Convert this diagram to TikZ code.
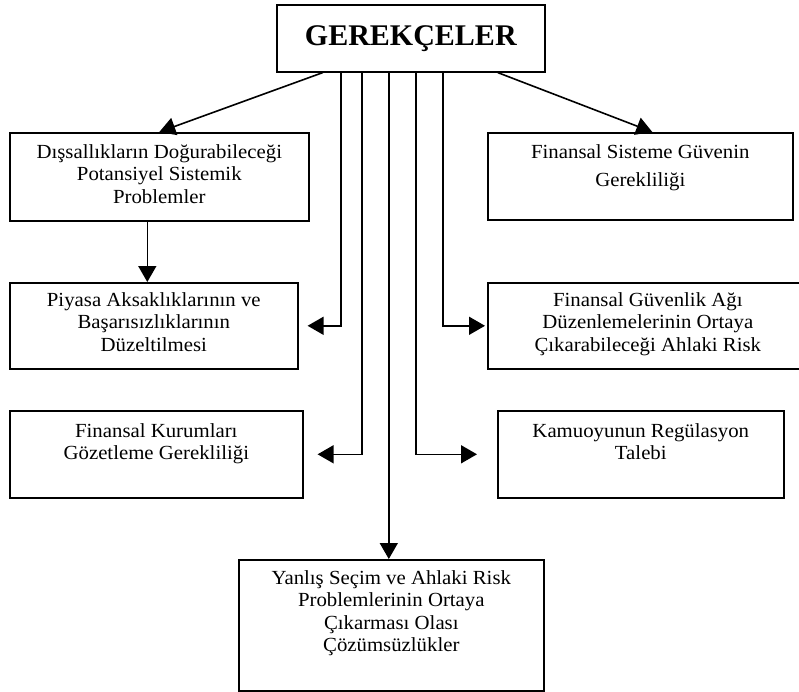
\documentclass[tikz,border=0pt]{standalone}
\usepackage{fontspec}
\setmainfont{Liberation Serif}[FakeStretch=1.04]
\newfontfamily\baslikfont{Liberation Serif}
\usetikzlibrary{arrows.meta}
\usetikzlibrary{positioning}

\begin{document}
\begin{tikzpicture}[x=1pt,y=-1pt,
		kutu/.style={draw, line width=1.6pt, anchor=north west, inner sep=0pt},
		yazi/.style={anchor=north, align=center, inner sep=0pt, font=\fontsize{20}{22.5}\selectfont},
		ok/.style={line width=1.6pt, -{Triangle[length=16pt,width=18pt]}}]
	\useasboundingbox (0,0) rectangle (799,692);
	\clip (0,0) rectangle (799,692);
	% kutular
	\node[kutu, minimum width=268pt, minimum height=67pt, font=\baslikfont\bfseries\fontsize{30}{30}\selectfont] (ger) at (276,4) {GEREKÇELER\hspace{12pt}};
	\node[kutu, minimum width=299pt, minimum height=88pt] (dis) at (9,132) {};
	\node[kutu, minimum width=305pt, minimum height=87pt] (fin) at (487,132) {};
	\node[kutu, minimum width=288pt, minimum height=86pt] (piy) at (9,282) {};
	\node[kutu, minimum width=320pt, minimum height=86pt] (fga) at (487,282) {};
	\node[kutu, minimum width=293pt, minimum height=87pt] (fku) at (9,410) {};
	\node[kutu, minimum width=286pt, minimum height=87pt] (kam) at (497,410) {};
	\node[kutu, minimum width=305pt, minimum height=131pt] (yan) at (238,559) {};
	% yazilar
	\node[yazi, below=12pt of dis.north] (dis-t) {Dışsallıkların Doğurabileceği\\ Potansiyel Sistemik\\ Problemler};
	\node[yazi, below=12pt of fin.north] (fin-t) {Finansal Sisteme Güvenin\\[6pt] Gerekliliği};
	\node[yazi, below=10pt of piy.north] (piy-t) {Piyasa Aksaklıklarının ve\\ Başarısızlıklarının\\ Düzeltilmesi};
	\node[yazi, below=10pt of fga.north] (fga-t) {Finansal Güvenlik Ağı\\ Düzenlemelerinin Ortaya\\ Çıkarabileceği Ahlaki Risk};
	\node[yazi, below=13pt of fku.north] (fku-t) {Finansal Kurumları\\ Gözetleme Gerekliliği};
	\node[yazi, below=13pt of kam.north] (kam-t) {Kamuoyunun Regülasyon\\ Talebi};
	\node[yazi, below=11pt of yan.north] (yan-t) {Yanlış Seçim ve Ahlaki Risk\\ Problemlerinin Ortaya\\ Çıkarması Olası\\ Çözümsüzlükler};
	% oklar
	\draw[ok] ([xshift=-88pt]ger.south) -- (dis.north);
	\draw[ok] ([xshift=87pt]ger.south) -- ([xshift=12pt]fin.north);
	\draw[ok] ([xshift=-12pt]dis.south) -- ([xshift=-12pt]dis.south |- piy.north);
	\draw[ok, shorten >=9pt] ([xshift=-70pt]ger.south) |- (piy.east);
	\draw[ok, shorten >=14pt] ([xshift=-49pt]ger.south) |- (fku.east);
	\draw[ok] ([xshift=-22pt]ger.south) -- ([xshift=-22pt]ger.south |- yan.north);
	\draw[ok, shorten >=20pt] ([xshift=5pt]ger.south) |- (kam.west);
	\draw[ok, shorten >=2pt] ([xshift=32pt]ger.south) |- (fga.west);
\end{tikzpicture}
\end{document}
